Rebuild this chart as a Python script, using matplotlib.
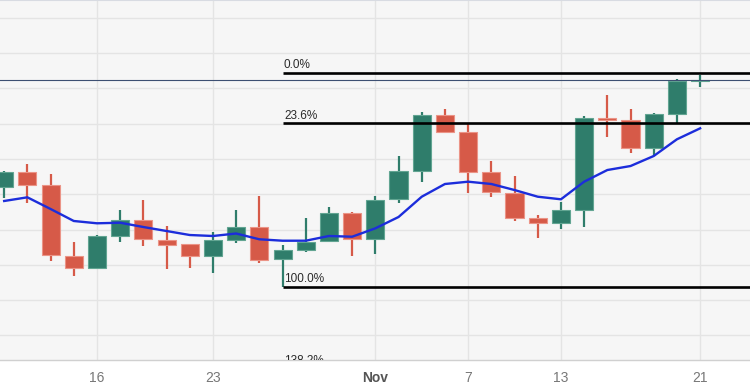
import matplotlib
matplotlib.use("Agg")
import matplotlib.pyplot as plt
from matplotlib.ticker import MultipleLocator, FixedLocator, FixedFormatter, NullFormatter
from matplotlib.transforms import offset_copy

# ---- data (EUR/USD-like daily candles, Oct 10 .. Nov 21) ----
opens = [1.07405, 1.07717, 1.07448, 1.05945, 1.05677, 1.06370, 1.06704, 1.06279, 1.06194, 1.05945,
         1.06279, 1.06561, 1.05869, 1.06066, 1.06258, 1.06859, 1.06294, 1.07144, 1.07751, 1.08935,
         1.08567, 1.07730, 1.07284, 1.06740, 1.06646, 1.06916, 1.08865, 1.08829, 1.08227, 1.08956,
         1.09664]
highs = [1.07745, 1.07887, 1.07681, 1.06230, 1.06385, 1.06916, 1.07129, 1.06576, 1.06200, 1.06442,
         1.06916, 1.07214, 1.06173, 1.06740, 1.06974, 1.06880, 1.07214, 1.08064, 1.08992, 1.09063,
         1.08759, 1.07958, 1.07639, 1.06810, 1.07093, 1.08914, 1.09360, 1.09056, 1.08971, 1.09694,
         1.09785]
lows = [1.07171, 1.07059, 1.05839, 1.05520, 1.05670, 1.06243, 1.06158, 1.05663, 1.05690, 1.05571,
        1.06221, 1.05796, 1.05286, 1.06030, 1.06230, 1.05945, 1.05981, 1.07071, 1.07518, 1.08546,
        1.07284, 1.07199, 1.06689, 1.06315, 1.06506, 1.06561, 1.08474, 1.08134, 1.08064, 1.08771,
        1.09536]
closes = [1.07717, 1.07448, 1.05960, 1.05677, 1.06370, 1.06704, 1.06294, 1.06173, 1.05945, 1.06279,
          1.06561, 1.05854, 1.06066, 1.06243, 1.06846, 1.06294, 1.07129, 1.07745, 1.08935, 1.08567,
          1.07730, 1.07292, 1.06740, 1.06646, 1.06916, 1.08865, 1.08829, 1.08227, 1.08950, 1.09664,
          1.09679]
moving_avg = [1.07108, 1.07186, 1.06938, 1.06683, 1.06634, 1.06646, 1.06555, 1.06470, 1.06385, 1.06364,
              1.06417, 1.06294, 1.06264, 1.06264, 1.06364, 1.06349, 1.06527, 1.06768, 1.07199, 1.07469,
              1.07518, 1.07469, 1.07341, 1.07199, 1.07144, 1.07518, 1.07766, 1.07851, 1.08064, 1.08419,
              1.08652]

tick_index = [4, 9, 16, 20, 24, 30]
tick_labels = ["16", "23", "Nov", "7", "13", "21"]

fib_high = 1.09838
fib_low = 1.05286
fib_start_index = 12
fib_ratios = [0.0, 0.236, 1.0, 1.382]
fib_labels = ["0.0%", "23.6%", "100.0%", "138.2%"]

# ---- styling ----
GREEN = "#2f7d6b"
GREEN_EDGE = "#62a592"
RED = "#d65a48"
RED_EDGE = "#eb9487"

fig = plt.figure(figsize=(7.5, 3.86), dpi=100)
fig.patch.set_facecolor("white")
ax = fig.add_axes([0, 26 / 386, 1, 360 / 386])
ax.set_facecolor("#f6f6f6")

n = len(opens)
xs = list(range(n))

# wicks
for i in xs:
    up = closes[i] >= opens[i]
    ax.vlines(i, lows[i], highs[i], color=GREEN if up else RED, linewidth=1.6, zorder=2)

# bodies
for i in xs:
    up = closes[i] >= opens[i]
    ax.bar(i, closes[i] - opens[i], bottom=opens[i], width=0.78,
           color=GREEN if up else RED, edgecolor=GREEN_EDGE if up else RED_EDGE,
           linewidth=0.8, zorder=3)

# moving average
ax.plot(xs, moving_avg, color="#1c2ddb", linewidth=1.7, zorder=4)

# current price line
ax.axhline(closes[-1], color="#3d4f72", linewidth=0.8, zorder=5)

# fibonacci retracement
label_tr = offset_copy(ax.transData, fig=fig, x=1.0, y=1.0, units="points")
for r, lab in zip(fib_ratios, fib_labels):
    lvl = fib_high - r * (fib_high - fib_low)
    ax.hlines(lvl, fib_start_index, 40, color="black", linewidth=1.9, zorder=6)
    t = ax.text(fib_start_index, lvl, lab, transform=label_tr,
                ha="left", va="bottom", fontsize=8.5, color="#2a2a2a",
                family="Liberation Sans", zorder=7)
    t.set_clip_on(True)
    t.set_clip_path(ax.patch)

# axes limits
ax.set_xlim(-0.18, 32.15)
ax.set_ylim(1.03729, 1.11379)

# grid
ax.yaxis.set_major_locator(MultipleLocator(0.0075, offset=1.08 % 0.0075))
ax.yaxis.set_major_formatter(NullFormatter())
ax.xaxis.set_major_locator(FixedLocator(tick_index))
ax.xaxis.set_major_formatter(FixedFormatter(tick_labels))
ax.grid(True, color="#e4e4e4", linewidth=1.0, zorder=0)
ax.set_axisbelow(True)
ax.tick_params(axis="both", length=0)
ax.tick_params(axis="x", pad=8, labelsize=10, labelcolor="#777777")
for lbl in ax.get_xticklabels():
    lbl.set_family("Liberation Sans")
    if lbl.get_text() == "Nov":
        lbl.set_color("#555555")
        lbl.set_fontweight("bold")

for side in ["left", "right"]:
    ax.spines[side].set_visible(False)
ax.spines["top"].set_color("#d8dbe2")
ax.spines["bottom"].set_color("#d0d0d0")
ax.spines["top"].set_linewidth(1.5)
ax.spines["bottom"].set_linewidth(1.0)

fig.savefig("out.png", dpi=100)
